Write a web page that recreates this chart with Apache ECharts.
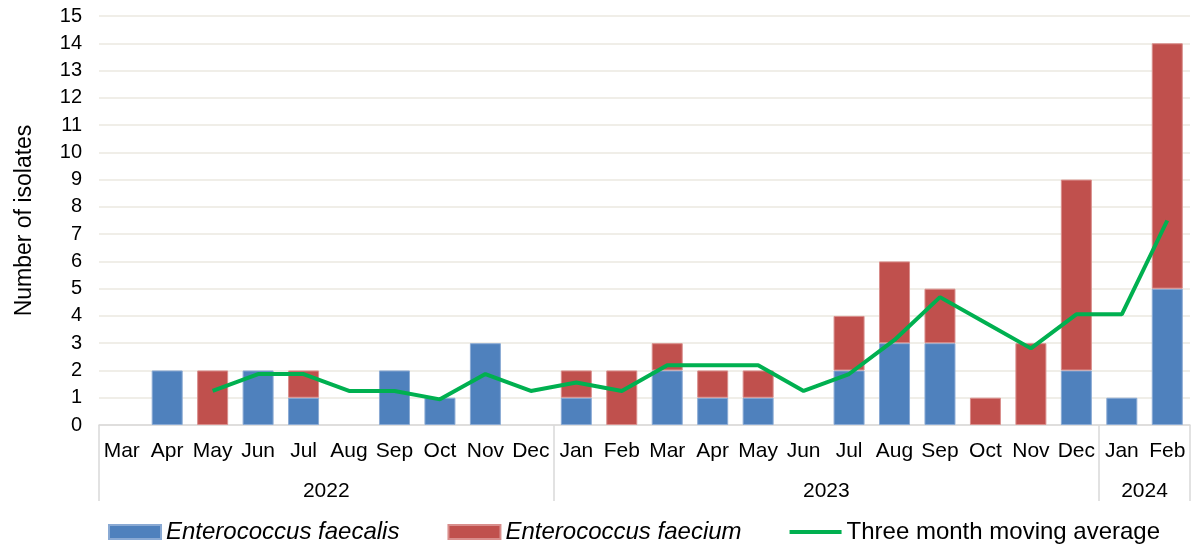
<!DOCTYPE html>
<html>
<head>
<meta charset="utf-8">
<title>Enterococcus isolates by month</title>
<script src="https://cdn.jsdelivr.net/npm/echarts@6/dist/echarts.min.js"></script>
<style>
  html, body { margin: 0; padding: 0; background: #ffffff; }
  #chart { width: 1194px; height: 549px; }
</style>
</head>
<body>
<div id="chart"></div>
<script>
// Months from March 2022 to February 2024
const months = ['Mar', 'Apr', 'May', 'Jun', 'Jul', 'Aug', 'Sep', 'Oct', 'Nov', 'Dec',
                'Jan', 'Feb', 'Mar', 'Apr', 'May', 'Jun', 'Jul', 'Aug', 'Sep', 'Oct', 'Nov', 'Dec',
                'Jan', 'Feb'];

// Year groups under the month labels: label and number of months in each
const years = ['2022', '2023', '2024'];
const yearMonthCounts = [10, 12, 2];

// Isolate counts per month
const faecalis = [0, 2, 0, 2, 1, 0, 2, 1, 3, 0,
                  1, 0, 2, 1, 1, 0, 2, 3, 3, 0, 0, 2,
                  1, 5];
const faecium  = [0, 0, 2, 0, 1, 0, 0, 0, 0, 0,
                  1, 2, 1, 1, 1, 0, 2, 3, 2, 1, 3, 7,
                  0, 9];

// Three month moving average (starts with the third month)
const movingAverage = [null, null, 1.25, 1.87, 1.87, 1.25, 1.25, 0.94, 1.87, 1.25,
                       1.56, 1.25, 2.19, 2.19, 2.19, 1.25, 1.87, 3.12, 4.69, 3.75, 2.81, 4.06,
                       4.06, 7.5];

// Y axis ticks
const yMin = 0, yMax = 15, yStep = 1;

// Year group boundaries and centres on a 0..N month scale
const boundaries = [0];
const centres = [];
yearMonthCounts.forEach(function (n) {
  const start = boundaries[boundaries.length - 1];
  centres.push(start + n / 2);
  boundaries.push(start + n);
});

// Empty months get no bar segment at all
function segments(values) {
  return values.map(function (v) { return v === 0 ? '-' : v; });
}

const FONT = 'Liberation Sans, Arial, sans-serif';
const AXIS_GRAY = '#d9d9d9';
const GREEN = '#00b050';

const chart = echarts.init(document.getElementById('chart'), null, { renderer: 'canvas' });

chart.setOption({
  animation: false,
  backgroundColor: '#ffffff',
  textStyle: { fontFamily: FONT, color: '#000000' },
  grid: { left: 99, right: 4, top: 16, bottom: 124, containLabel: false },
  legend: {
    bottom: 0,
    left: 103,
    itemWidth: 52,
    itemHeight: 14,
    itemGap: 48,
    textStyle: {
      fontFamily: FONT, fontSize: 24, color: '#000000',
      rich: { i: { fontFamily: FONT, fontSize: 24, fontStyle: 'italic', color: '#000000' } }
    },
    formatter: function (name) {
      return name.indexOf('Enterococcus') === 0 ? '{i|' + name + '}' : name;
    },
    data: [
      { name: 'Enterococcus faecalis', icon: 'rect' },
      { name: 'Enterococcus faecium', icon: 'rect' },
      { name: 'Three month moving average', icon: 'path://M0,0 L52,0 L52,4 L0,4 Z',
        itemStyle: { color: GREEN } }
    ]
  },
  xAxis: [
    {
      type: 'category',
      data: months,
      position: 'bottom',
      axisLine: { show: true, lineStyle: { color: AXIS_GRAY, width: 1.5 } },
      axisTick: { show: false },
      axisLabel: { fontFamily: FONT, fontSize: 21, color: '#000000', margin: 16, interval: 0 },
      splitLine: { show: false }
    },
    {
      type: 'value',
      min: 0,
      max: months.length,
      position: 'bottom',
      axisLine: { show: false },
      axisTick: {
        show: true,
        customValues: boundaries,
        length: 76,
        lineStyle: { color: AXIS_GRAY, width: 1.5 }
      },
      axisLabel: {
        show: true,
        customValues: centres,
        margin: 56,
        fontFamily: FONT, fontSize: 21, color: '#000000',
        formatter: function (v) {
          const i = centres.indexOf(v);
          return i >= 0 ? years[i] : '';
        }
      },
      splitLine: { show: false }
    }
  ],
  yAxis: {
    type: 'value',
    min: yMin,
    max: yMax,
    interval: yStep,
    name: 'Number of isolates',
    nameLocation: 'middle',
    nameGap: 63,
    nameTextStyle: { fontFamily: FONT, fontSize: 23, color: '#000000' },
    axisLine: { show: false },
    axisTick: { show: false },
    axisLabel: { fontFamily: FONT, fontSize: 20, color: '#000000', margin: 17 },
    splitLine: { show: true, lineStyle: { color: '#ebe8e0', width: 1.5 } }
  },
  series: [
    {
      name: 'Enterococcus faecalis',
      type: 'bar',
      stack: 'isolates',
      xAxisIndex: 0,
      barWidth: 31,
      data: segments(faecalis),
      itemStyle: { color: '#4f81bd', borderColor: '#8aaad4', borderWidth: 1 }
    },
    {
      name: 'Enterococcus faecium',
      type: 'bar',
      stack: 'isolates',
      xAxisIndex: 0,
      barWidth: 31,
      data: segments(faecium),
      itemStyle: { color: '#c0504d', borderColor: '#d98e8c', borderWidth: 1 }
    },
    {
      name: 'Three month moving average',
      type: 'line',
      xAxisIndex: 0,
      data: movingAverage,
      symbol: 'none',
      connectNulls: false,
      z: 5,
      lineStyle: { color: GREEN, width: 4 },
      itemStyle: { color: GREEN }
    }
  ]
});
</script>
</body>
</html>
